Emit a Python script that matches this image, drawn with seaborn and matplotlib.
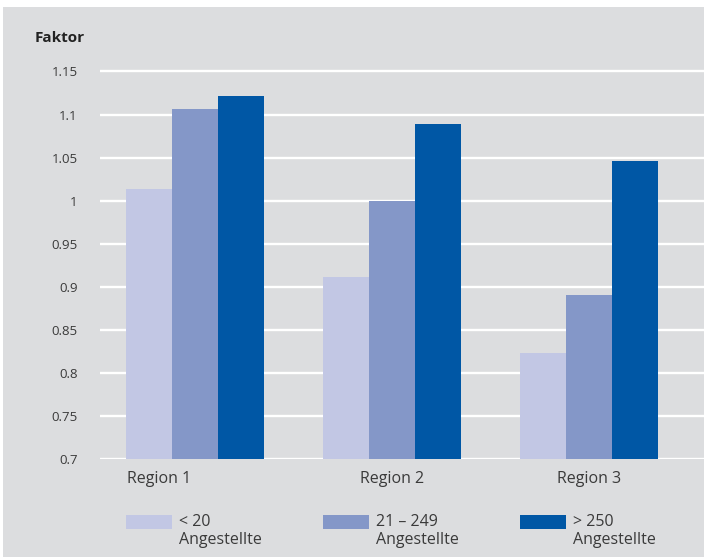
import matplotlib
matplotlib.use("Agg")
import matplotlib.pyplot as plt
import matplotlib.transforms as mtransforms
from matplotlib.patches import Rectangle
from matplotlib.legend_handler import HandlerPatch
import seaborn as sns
import pandas as pd

regions = ["Region 1", "Region 2", "Region 3"]
groups = ["< 20\nAngestellte", "21 – 249\nAngestellte", "> 250\nAngestellte"]
small = [1.014, 0.912, 0.823]
medium = [1.107, 1.000, 0.891]
large = [1.121, 1.089, 1.046]
yticks = [0.7, 0.75, 0.8, 0.85, 0.9, 0.95, 1.0, 1.05, 1.1, 1.15]
ytick_labels = ["0.7", "0.75", "0.8", "0.85", "0.9", "0.95", "1", "1.05", "1.1", "1.15"]
colors = ["#C2C7E4", "#8497C8", "#0057A5"]

rows = []
for g, vals in zip(groups, [small, medium, large]):
    for r, v in zip(regions, vals):
        rows.append({"Region": r, "Gruppe": g, "Faktor": v})
df = pd.DataFrame(rows)

sns.set_theme(style="white")
plt.rcParams["font.family"] = ["Open Sans", "DejaVu Sans"]
TXT = "#3a3a3a"
BG = "#DCDDDF"

W, H = 704, 559
fig = plt.figure(figsize=(W / 100, H / 100), dpi=100)
fig.patch.set_facecolor("white")
fig.patches.append(Rectangle((3 / W, 2 / H), (W - 3) / W, (H - 2 - 7) / H,
                             transform=fig.transFigure, facecolor=BG,
                             edgecolor="none", zorder=-10))

ax_left, ax_right = 100, 704
y07, ppu = 459.4, 862.0
ytop = 1.16
ax_top_px = y07 - (ytop - 0.7) * ppu
ax = fig.add_axes([ax_left / W, (H - y07) / H, (ax_right - ax_left) / W,
                   (y07 - ax_top_px) / H])
ax.set_facecolor("none")

sns.barplot(data=df, x="Region", y="Faktor", hue="Gruppe", order=regions,
            hue_order=groups, palette=colors, saturation=1, width=0.7,
            linewidth=0, ax=ax, legend=True)

ax.set_ylim(0.7, ytop)
ax.set_xlim(-95 / 197, 2 + 115 / 197)
ax.set_yticks(yticks)
ax.set_yticklabels(ytick_labels)
ax.set_axisbelow(True)
ax.yaxis.grid(True, color="white", linewidth=1.7)
ax.xaxis.grid(False)
for s in ax.spines.values():
    s.set_visible(False)
ax.tick_params(axis="y", length=0, pad=16, labelsize=9.5, labelcolor=TXT)
ax.tick_params(axis="x", length=0, pad=8, labelsize=11.5, labelcolor=TXT)
ax.set_xlabel("")
ax.set_ylabel("")

# Region 1 label sits left-aligned under its first bar
lab0 = ax.get_xticklabels()[0]
lab0.set_transform(lab0.get_transform() + mtransforms.ScaledTranslation(-36 / 100, 0, fig.dpi_scale_trans))

fig.text(35 / W, 1 - 38 / H, "Faktor", fontsize=11, fontweight="bold",
         color="#222222", ha="left", va="center")

LS = 1.15
SHIFT_PT = 18.3 * 0.72 / 2


class UpPatch(HandlerPatch):
    def create_artists(self, legend, orig_handle, xdescent, ydescent,
                       width, height, fontsize, trans):
        p = Rectangle((-xdescent, -ydescent + SHIFT_PT), width, height)
        self.update_prop(p, orig_handle, legend)
        p.set_transform(trans)
        return [p]


handles, labels = ax.get_legend_handles_labels()
ax.get_legend().remove()
fs = 11.5
fspx = fs * 100 / 72


def make_legend(cs):
    lg = fig.legend(handles, labels, ncol=3, loc="upper left",
                    bbox_to_anchor=(126 / W, 1 - 514 / H), frameon=False,
                    fontsize=fs, handlelength=46 / fspx, handleheight=16 / fspx,
                    handletextpad=7 / fspx, borderpad=0, borderaxespad=0,
                    columnspacing=cs, labelspacing=0,
                    handler_map={h: UpPatch() for h in handles})
    for t in lg.get_texts():
        t.set_color(TXT)
        t.set_linespacing(LS)
    return lg


leg = make_legend(2.0)
fig.canvas.draw()
r = fig.canvas.get_renderer()
tw = max(t.get_window_extent(r).width for t in leg.get_texts())
cs = (197 - 46 - 7 - tw) / fspx
leg.remove()
leg = make_legend(cs)

fig.savefig("out.png", dpi=100, facecolor="white")
